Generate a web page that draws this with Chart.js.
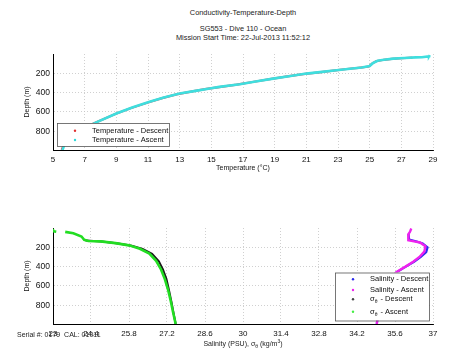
<!DOCTYPE html>
<html>
<head>
<meta charset="UTF-8">
<title>Conductivity-Temperature-Depth</title>
<script src="https://cdn.jsdelivr.net/npm/chart.js@4.4.4/dist/chart.umd.min.js"></script>
<style>
body{margin:0;background:#fff;font-family:"Liberation Sans",Arial,sans-serif;}
#wrap{position:relative;width:450px;height:348px;overflow:hidden;}
.t{position:absolute;left:0;width:486px;text-align:center;font-size:7.4px;line-height:9.5px;color:#222;white-space:nowrap;}
canvas{position:absolute;left:0;}
#serial{position:absolute;left:17px;top:330px;font-size:7px;line-height:9px;color:#222;white-space:nowrap;}
#salTitle{top:339px;font-size:7px;}
#salTitle sub,#salTitle sup{font-size:5px;line-height:0;}
</style>
<script>
// temperature profile: temperature (degC) and depth (m)
const tempDescT = [27.7, 27.0, 26.4, 25.9, 25.4, 25.15, 24.95, 24.3, 23.7, 22.7, 21.8, 20.8, 19.8, 18.7, 17.6, 16.6, 15.4, 14.7, 13.8, 12.8, 11.9, 11.0, 9.9, 8.9, 7.7, 6.6, 6.0, 5.7, 5.55];
const tempDescZ = [38, 44, 50, 60, 75, 100, 130, 143, 153, 172, 190, 208, 232, 260, 290, 318, 345, 362, 388, 418, 457, 503, 562, 624, 710, 795, 865, 930, 995];
const tempAscT = [28.8, 28.75, 28.3, 27.9, 27.2, 26.5, 25.9, 25.5, 25.2, 25.0, 24.5, 23.9, 22.9, 22.0, 21.0, 20.0, 18.9, 17.8, 16.8, 15.5, 14.9, 14.0, 13.0, 12.0, 11.1, 10.0, 9.0, 7.8, 6.7, 6.1, 5.75, 5.6];
const tempAscZ = [12, 25, 33, 35, 42, 48, 60, 70, 95, 125, 140, 150, 168, 185, 203, 228, 255, 285, 313, 341, 358, 382, 410, 450, 496, 555, 617, 703, 789, 860, 925, 996];

// salinity (PSU) and sigma-theta (kg/m3) against depth (m)
const salDescS = [36.1, 36.12, 36.4, 36.62, 36.8, 36.75, 36.55, 36.3, 36.0, 35.68, 35.46, 35.28, 35.15, 35.05, 34.97, 34.93];
const salDescZ = [60, 120, 140, 160, 200, 250, 300, 350, 400, 455, 510, 600, 700, 800, 900, 995];
const salAscS = [36.2, 36.15, 36.1, 36.08, 36.1, 36.3, 36.52, 36.72, 36.68, 36.5, 36.27, 35.97, 35.66, 35.45, 35.28, 35.15, 35.05, 34.97, 34.93];
const salAscZ = [6, 40, 60, 100, 127, 138, 150, 190, 245, 300, 350, 403, 455, 510, 600, 700, 800, 900, 995];
const sigDescS = [24.2, 24.8, 25.4, 25.9, 26.3, 26.65, 26.9, 27.05, 27.18, 27.27, 27.36, 27.44, 27.52];
const sigDescZ = [130, 140, 160, 183, 218, 268, 345, 430, 530, 640, 760, 880, 995];
const sigAscS = [23.05, 22.98, 23.02, 23.12, null, 23.45, 23.75, 24.05, 24.15, 24.3, 24.75, 25.3, 25.8, 26.2, 26.55, 26.8, 26.98, 27.12, 27.24, 27.34, 27.43, 27.52];
const sigAscZ = [18, 26, 33, 38, null, 40, 55, 88, 122, 134, 139, 157, 180, 215, 265, 340, 430, 530, 640, 760, 880, 995];

// tick labels
const depthTicks = [200, 400, 600, 800];
const tempTicks = [5, 7, 9, 11, 13, 15, 17, 19, 21, 23, 25, 27, 29];
const salTicks = [23, 24.4, 25.8, 27.2, 28.6, 30, 31.4, 32.8, 34.2, 35.6, 37];

const FAM = '"Liberation Sans", Arial, sans-serif';

function pts(xs, ys) {
  return xs.map((x, i) => ({x: x, y: ys[i]}));
}

function yScale() {
  return {
    type: 'linear', reverse: true, min: 0, max: 995,
    afterBuildTicks: s => { s.ticks = depthTicks.map(v => ({value: v})); },
    afterFit: s => { s.width = 53; },
    grid: {color: '#c4c4c4', lineWidth: 0.8, drawTicks: false},
    border: {color: '#000', width: 1, dash: [1, 2]},
    ticks: {font: {size: 8.5, family: FAM}, color: '#111', padding: 3},
    title: {display: true, text: 'Depth (m)', font: {size: 7, family: FAM}, color: '#111', padding: {top: 23}}
  };
}

function xScale(min, max, tickArr, height, titleText) {
  return {
    type: 'linear', min: min, max: max,
    afterBuildTicks: s => { s.ticks = tickArr.map(v => ({value: v})); },
    afterFit: s => { s.height = height; },
    grid: {color: '#c4c4c4', lineWidth: 0.8, drawTicks: false},
    border: {color: '#000', width: 1, dash: [1, 2]},
    ticks: {font: {size: 8, family: FAM}, color: '#111', padding: 5, maxRotation: 0, autoSkip: false, callback: v => String(v)},
    title: {display: !!titleText, text: titleText, font: {size: 7, family: FAM}, color: '#111', padding: {bottom: 3}}
  };
}

// legend box drawn inside the plot area
const boxLegend = {
  id: 'boxLegend',
  afterDraw(chart, args, opts) {
    const c = chart.ctx;
    c.save();
    c.fillStyle = '#fff';
    c.fillRect(opts.x, opts.y, opts.w, opts.h);
    c.strokeStyle = '#555';
    c.lineWidth = 0.8;
    c.strokeRect(opts.x + 0.5, opts.y + 0.5, opts.w, opts.h);
    c.font = '7.5px ' + FAM;
    c.textBaseline = 'middle';
    opts.items.forEach(it => {
      c.fillStyle = it.color;
      c.beginPath();
      c.arc(opts.mx, it.y, 1.2, 0, Math.PI * 2);
      c.fill();
      c.fillStyle = '#111';
      let x = opts.tx;
      if (it.sigma) {
        c.fillText('\u03c3', x, it.y);
        x += c.measureText('\u03c3').width;
        c.font = '5px ' + FAM;
        c.fillText('\u03b8', x, it.y + 2.5);
        x += c.measureText('\u03b8').width + 1;
        c.font = '7.5px ' + FAM;
      }
      c.fillText(it.text, x, it.y);
    });
    c.restore();
  }
};

window.addEventListener('load', function() {
  new Chart(document.getElementById('topChart').getContext('2d'), {
    type: 'scatter',
    data: {
      datasets: [
        {data: pts(tempAscT, tempAscZ), showLine: true, borderColor: '#3fdede', borderWidth: 2.6, pointRadius: 0, order: 1},
        {data: pts(tempDescT, tempDescZ), showLine: true, borderColor: '#d0505a', borderWidth: 2.2, pointRadius: 0, order: 2}
      ]
    },
    options: {
      responsive: false, animation: false, devicePixelRatio: 1,
      layout: {padding: {left: 0, right: 17, top: 14, bottom: 0}},
      scales: {x: xScale(5, 29, tempTicks, 25, 'Temperature (\u00b0C)'), y: yScale()},
      plugins: {
        legend: {display: false}, tooltip: {enabled: false},
        boxLegend: {x: 57, y: 83, w: 112, h: 23, mx: 75, tx: 92, items: [
          {y: 90.7, color: '#e03030', text: 'Temperature - Descent'},
          {y: 100, color: '#30d8d8', text: 'Temperature - Ascent'}
        ]}
      }
    },
    plugins: [boxLegend]
  });

  new Chart(document.getElementById('botChart').getContext('2d'), {
    type: 'scatter',
    data: {
      datasets: [
        {data: pts(sigAscS, sigAscZ), showLine: true, spanGaps: false, borderColor: '#22dd22', borderWidth: 2.6, pointRadius: 0, order: 1},
        {data: pts(sigDescS, sigDescZ), showLine: true, borderColor: '#1a1a1a', borderWidth: 2, pointRadius: 0, order: 2},
        {data: pts(salAscS, salAscZ), showLine: true, borderColor: '#ee22ee', borderWidth: 2.4, pointRadius: 0, order: 1},
        {data: pts(salDescS, salDescZ), showLine: true, borderColor: '#2a2aee', borderWidth: 2.2, pointRadius: 0, order: 2}
      ]
    },
    options: {
      responsive: false, animation: false, devicePixelRatio: 1,
      layout: {padding: {left: 0, right: 17, top: 14, bottom: 0}},
      scales: {x: xScale(23, 37, salTicks, 24, ''), y: yScale()},
      plugins: {
        legend: {display: false}, tooltip: {enabled: false},
        boxLegend: {x: 335, y: 58.5, w: 94, h: 48, mx: 353, tx: 370, items: [
          {y: 65.3, color: '#2a2aee', text: 'Salinity - Descent'},
          {y: 76, color: '#ee22ee', text: 'Salinity - Ascent'},
          {y: 85.3, color: '#444', text: ' - Descent', sigma: true},
          {y: 97.7, color: '#44ee44', text: ' - Ascent', sigma: true}
        ]}
      }
    },
    plugins: [boxLegend]
  });
});
</script>
</head>
<body>
<div id="wrap">
  <div class="t" style="top:7.5px">Conductivity-Temperature-Depth</div>
  <div class="t" style="top:23.5px">SG553 - Dive 110 - Ocean<br>Mission Start Time: 22-Jul-2013 11:52:12</div>
  <canvas id="topChart" width="450" height="135" style="top:40px"></canvas>
  <canvas id="botChart" width="450" height="134" style="top:214px"></canvas>
  <div id="serial">Serial #: 0179&nbsp;&nbsp;CAL: 01011</div>
  <div class="t" id="salTitle">Salinity (PSU), &sigma;<sub>&theta;</sub> (kg/m<sup>3</sup>)</div>
</div>
</body>
</html>
